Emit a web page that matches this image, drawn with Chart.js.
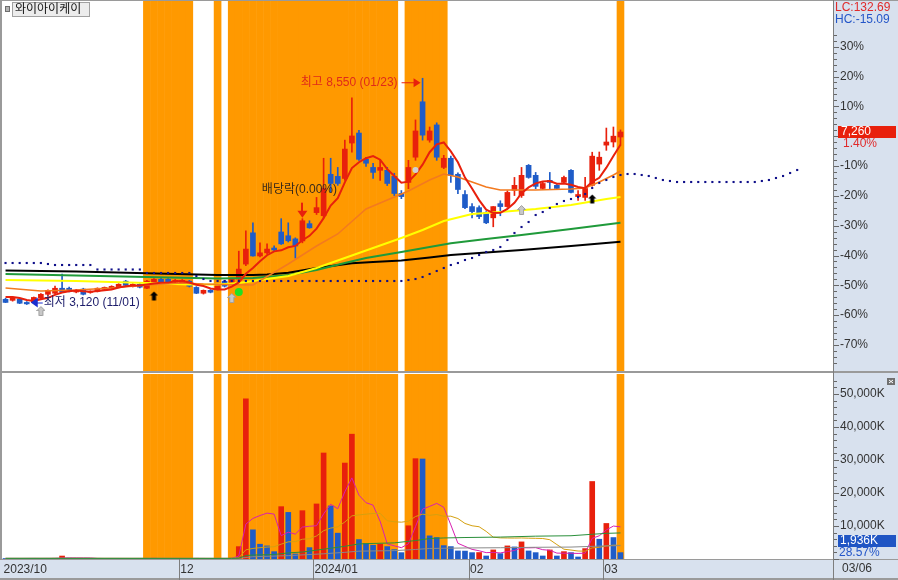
<!DOCTYPE html>
<html lang="ko">
<head>
<meta charset="utf-8">
<title>와이아이케이</title>
<script src="https://cdn.jsdelivr.net/npm/chart.js@4.4.1/dist/chart.umd.min.js"></script>
<style>
  html, body { margin: 0; padding: 0; background: #fff; }
  #wrap { position: relative; width: 898px; height: 580px; overflow: hidden; }
  canvas { position: absolute; left: 0; }
  #price { top: 0; }
  #volume { top: 373px; }
</style>
</head>
<body>
<div id="wrap">
  <canvas id="price" width="898" height="373"></canvas>
  <canvas id="volume" width="898" height="207"></canvas>
</div>
<script>
// one slot per trading day, slot 0 = 2023/10/27, last candle = 2024/03/06 (slot 87)
const N_SLOTS = 117;
const monthTicks = { 0: '2023/10', 25: '12', 44: '2024/01', 66: '02', 85: '03' };

const open = [3245,3220,3250,3170,3170,3270,3365,3390,3510,3510, 3420,3490,3410,3435,3485,3510,3535,3680,3555,3605,
  3510,3630,3725,3725,3655,3630,3680,3530,3390,3460, 3485,3680,3630,3730,4090,4840,4285,4360,4475,4860,
  4770,4695,4645,5060,5325,5250,6245,6195,6145,6995, 7235,6605,6410,6340,6340,6195,5785,6050,6655,7985,
  7065,7430,6410,6630,6245,5760,5470,5445,5325,5200, 5540,5470,5860,5735,6460,6220,5905,6100,5980,6050,
  6340,5710,5690,5980,6490,6945,7020,7140];
const high = [3270,3300,3270,3190,3300,3380,3470,3560,3850,3540, 3480,3510,3450,3520,3540,3570,3620,3700,3620,3620,
  3700,3740,3750,3740,3720,3720,3700,3550,3470,3480, 3600,3700,3740,4400,4890,5080,4600,4575,4530,5180,
  5080,4720,5180,5130,5690,6630,6630,6410,7065,8080, 7300,6655,6510,6580,6410,6270,5855,6580,7550,8550,
  7380,7480,6700,6680,6280,5855,5540,5490,5350,5470, 5610,5850,6170,6410,6480,6290,6060,6290,6000,6200,
  6360,5855,6170,6775,6780,7355,7380,7310];
const low = [3165,3200,3140,3120,3150,3250,3340,3380,3410,3420, 3400,3350,3390,3420,3470,3490,3520,3570,3540,3520,
  3500,3620,3640,3620,3640,3610,3540,3380,3370,3400, 3470,3540,3600,3700,4050,4280,4260,4330,4400,4560,
  4620,4235,4600,4950,5280,5200,5810,5980,6100,6775, 6580,6435,6145,6100,5975,5735,5660,5900,6580,7065,
  7015,6580,6380,6050,5780,5420,5200,5180,5060,4985, 5250,5450,5735,5690,6150,5900,5880,5900,5880,6030,
  5800,5620,5620,5960,6340,6820,6900,6945];
const close = [3170,3290,3150,3135,3290,3365,3460,3510,3420,3440, 3460,3365,3435,3510,3530,3555,3605,3580,3605,3535,
  3680,3725,3655,3630,3700,3700,3560,3390,3460,3415, 3580,3560,3725,3970,4450,4285,4360,4450,4430,4575,
  4650,4525,5130,4960,5445,5905,6025,6025,6850,7165, 6605,6510,6290,6410,6025,5785,5710,6410,7285,7185,
  7285,6655,6630,6220,5880,5445,5350,5230,5080,5470, 5470,5810,5980,6220,6170,5955,6025,6050,5905,6170,
  5810,5760,5905,6680,6655,7020,7160,7260];

// volume in thousands of shares
const volume = [150,180,160,200,170,150,190,220,900,240, 180,160,150,170,140,160,190,150,140,160,
  200,230,170,150,140,160,180,220,170,140, 190,160,260,3750,48500,8845,4480,3965,2225,15860,
  14120,1525,14640,3450,16680,32120,16070,7830,29070,37820, 5890,4670,4170,4470,3760,2850,1930,10070,30400,30300,
  7015,6500,4060,3760,2440,2400,1930,1960,915,2745, 1630,3965,3660,5185,2440,1930,915,2745,915,2235,
  1930,610,3150,23485,6000,10770,6500,1936];

// moving averages of price (red line every day, slower lines as [slot, price])
const ma5 = [3300,3300,3276,3228,3207,3246,3280,3352,3409,3439, 3458,3439,3424,3442,3460,3479,3527,3556,3575,3576,
  3601,3625,3640,3645,3678,3682,3649,3596,3562,3505, 3481,3481,3548,3650,3857,3998,4158,4303,4395,4420,
  4493,4526,4662,4768,4942,5193,5493,5672,6050,6394, 6534,6631,6684,6596,6368,6204,6044,6068,6243,6475,
  6775,6964,7008,6795,6534,6166,5905,5625,5397,5315, 5320,5412,5562,5790,5930,6027,6070,6084,6021,6021,
  5992,5939,5910,6065,6162,6404,6684,6955];
const ma20 = [[0,3516],[5,3444],[10,3468],[15,3516],[20,3588],[25,3636],[28,3612],[31,3600],[35,3588],[40,4092],
  [44,4524],[47,4812],[51,5412],[54,5628],[57,5844],[60,6108],[62,6252],[64,6180],
  [66,6060],[68,5940],[70,5868],[75,5868],[80,5892],[82,5916],[84,6060],[86,6228],[87,6324]];
const ma60 = [[0,3708],[10,3684],[20,3636],[26,3600],[30,3600],[33,3636],[36,3708],[40,3804],[44,3996],[48,4236],
  [52,4476],[56,4716],[59,4908],[62,5124],[66,5292],[70,5340],[75,5412],[80,5508],[85,5652],[87,5700]];
const ma120 = [[0,3852],[10,3816],[20,3780],[30,3744],[35,3756],[40,3828],[44,3948],[48,4116],[51,4236],[56,4380],
  [60,4500],[63,4589],[68,4692],[73,4788],[80,4932],[87,5083]];
const ma240 = [[0,3936],[10,3910],[20,3870],[30,3830],[35,3830],[37,3840],[40,3883],[44,3996],[49,4109],[52,4140],
  [56,4176],[60,4248],[63,4308],[68,4368],[73,4428],[80,4524],[87,4627]];

// dotted leading line, runs 25 slots past the last candle
const leadLine = [4116,4116,4116,4116,4116,4116,4092,4068,4068,4068, 4068,4068,4068,3960,3960,3960,3960,3960,3960,3960,
  3876,3876,3876,3876,3876,3876,3876,3804,3732,3684, 3684,3684,3684,3684,3684,3684,3684,3684,3684,3684,
  3684,3684,3684,3684,3684,3684,3684,3684,3684,3684, 3684,3684,3684,3684,3684,3684,3684,3708,3732,3780,
  3852,3924,3996,4068,4116,4188,4236,4308,4380,4428, 4500,4668,4836,4980,5100,5268,5340,5436,5532,5604,
  5652,5700,5772,5916,6036,6108,6180,6228,6252,6252, 6228,6204,6156,6108,6084,6060,6060,6060,6060,6060,
  6060,6060,6060,6060,6060,6060,6060,6084,6108,6156, 6204,6276,6348];

// volume averages
const volMa5 = [170,170,165,172,180,174,176,186,326,340, 346,340,326,180,160,164,164,158,156,160,
  168,176,172,170,178,170,160,174,174,162, 172,176,184,900,10572,12303,13167,13908,13603,7075,
  8130,7539,9674,9919,10083,13683,16592,15230,20354,24582, 19336,17056,16324,11404,4592,3984,3436,4616,9802,15110,
  15943,16857,15655,10327,4755,3832,2918,2498,1929,1990, 1836,2243,2583,3437,3376,3436,2826,2643,1789,1748,
  1748,1687,1768,6282,7035,8803,9981,9738];
const volMa20 = [[0,190],[10,210],[20,200],[32,190],[33,358],[34,2775],[35,3208],[36,3423],[37,3612],[38,3714],
  [39,4498],[40,5195],[41,5262],[42,5986],[43,6149],[44,6974],[45,8571],[46,9366],[47,9748],[48,11193],
  [49,13075],[50,13360],[51,13585],[52,13784],[53,13820],[54,11583],[55,11283],[56,11156],[57,11461],[58,12870],
  [59,13592],[60,13237],[61,13485],[62,12956],[63,12972],[64,12260],[65,10774],[66,10067],[67,9774],[68,8366],
  [69,6612],[70,6399],[71,6364],[72,6339],[73,6374],[74,6308],[75,6262],[76,6212],[77,5845],[78,4371],
  [79,2968],[80,2714],[81,2419],[82,2374],[83,3360],[84,3538],[85,3954],[86,4183],[87,4183]];
const volMa60 = [[0,190],[32,180],[33,240],[34,1045],[35,1189],[38,1358],[40,1852],[42,2115],[45,2977],[48,3851],
  [50,4573],[52,4715],[55,4890],[58,5588],[60,6204],[62,6374],[65,6508],[70,6646],[75,6918],[80,7048],
  [83,7493],[85,7767],[87,7901]];
const volMa120 = [[0,200],[32,180],[33,210],[35,686],[40,1017],[45,1580],[48,2017],[50,2378],[55,2537],[58,2886],
  [60,3194],[65,3346],[70,3415],[75,3550],[80,3616],[85,3975],[87,4042]];

// highlighted trading days (orange columns)
const highlight = [0,0,0,0,0,0,0,0,0,0, 0,0,0,0,0,0,0,0,0,0,
  1,1,1,1,1,1,1,0,0,0, 1,0,1,1,1,1,1,1,1,1,
  1,1,1,1,1,1,1,1,1,1, 1,1,1,1,1,1,0,1,1,1,
  1,1,1,0,0,0,0,0,0,0, 0,0,0,0,0,0,0,0,0,0,
  0,0,0,0,0,0,0,1];

// signal markers [slot, price]
const buyArrows = [[21, 3324], [83, 5652]];
const watchArrows = [[5, 2964], [32, 3276], [73, 5388]];
const greenDots = [[33, 3420]];
const grayDots = [[58, 6348]];

const pctSteps = [30, 20, 10, -10, -20, -30, -40, -50, -60, -70];
const volSteps = [10000, 20000, 30000, 40000, 50000];
const BASE_CLOSE = 7160, LAST_CLOSE = 7260, LAST_VOL = 1936;
const PRICE_MIN = 1500, PRICE_MAX = 10404, VOL_MAX = 56055;

const UP = '#e8200c', DOWN = '#1f5cc8', BAND = '#ff9900', AXIS_BG = '#d8e1ee', AXIS_W = 69;
const FONT = '"Liberation Sans", "Noto Sans CJK KR", sans-serif';
Chart.defaults.font.family = FONT;
Chart.defaults.font.size = 12;
Chart.defaults.color = '#333';

const labels = Array.from({ length: N_SLOTS }, (_, i) => String(i));
const sparse = pairs => {
  const a = new Array(N_SLOTS).fill(null);
  pairs.forEach(([i, v]) => { a[i] = v; });
  return a;
};
const candleColor = ctx => close[ctx.dataIndex] >= open[ctx.dataIndex] ? UP : DOWN;
const volColor = ctx => {
  const i = ctx.dataIndex;
  return i > 0 && volume[i] > volume[i - 1] ? UP : DOWN;
};

function arrowIcon(fill, stroke) {
  const c = document.createElement('canvas');
  c.width = 9; c.height = 10;
  const g = c.getContext('2d');
  g.beginPath();
  g.moveTo(4.5, 0.5); g.lineTo(8.5, 4.5); g.lineTo(6.5, 4.5); g.lineTo(6.5, 9.5);
  g.lineTo(2.5, 9.5); g.lineTo(2.5, 4.5); g.lineTo(0.5, 4.5); g.closePath();
  g.fillStyle = fill; g.fill();
  if (stroke) { g.strokeStyle = stroke; g.lineWidth = 1; g.stroke(); }
  return c;
}

const maLine = (label, data, color, width, order) => ({
  type: 'line', label, data, borderColor: color, borderWidth: width,
  pointRadius: 0, spanGaps: true, tension: 0, order
});
const marker = (label, pairs, style, radius, color, order) => ({
  type: 'line', label, data: sparse(pairs), showLine: false, pointStyle: style,
  pointRadius: radius, backgroundColor: color, borderColor: color, borderWidth: 0, order
});
const rightAxis = (min, max, values, fmt) => ({
  position: 'right', min, max, beginAtZero: false,
  grid: { display: false, drawTicks: false, tickLength: 0 },
  border: { display: false },
  afterFit(s) { s.width = AXIS_W; s.paddingTop = 0; s.paddingBottom = 0; },
  afterBuildTicks(s) { s.ticks = values.map(value => ({ value })); },
  ticks: { autoSkip: false, padding: 11, color: '#333', callback: fmt }
});

function text(ctx, str, x, y, color, align) {
  ctx.fillStyle = color;
  ctx.textAlign = align || 'left';
  ctx.fillText(str, x, y);
}

const priceDecor = {
  id: 'priceDecor',
  beforeDraw(chart) {
    const { ctx, width, height } = chart;
    ctx.save();
    ctx.fillStyle = '#fff'; ctx.fillRect(0, 0, width, height);
    ctx.fillStyle = AXIS_BG; ctx.fillRect(833, 0, width - 833, height);
    ctx.restore();
  },
  afterDraw(chart) {
    const { ctx, width, height } = chart;
    const px = i => chart.scales.x.getPixelForValue(i);
    const py = v => chart.scales.y.getPixelForValue(v);
    ctx.save();
    ctx.fillStyle = '#9a9a9a';
    ctx.fillRect(0, 0, 2, height);
    ctx.fillRect(0, 0, width, 1);
    ctx.fillRect(0, height - 2, width, 2);
    ctx.fillStyle = '#7d7d7d';
    ctx.fillRect(833, 0, 1, height);
    ctx.fillStyle = '#666';
    for (let k = -76; k <= 34; k += 2) {
      ctx.fillRect(834, Math.round(py(BASE_CLOSE * (1 + k / 100))), k % 10 === 0 ? 5 : 3, 1);
    }

    ctx.font = '12px ' + FONT;
    ctx.textBaseline = 'middle';

    // stock name
    ctx.fillStyle = '#b4b4b4'; ctx.fillRect(5, 6, 5, 6);
    ctx.strokeStyle = '#6e6e6e'; ctx.lineWidth = 1; ctx.strokeRect(5.5, 6.5, 4, 5);
    ctx.fillStyle = '#ececec'; ctx.fillRect(12, 2, 78, 15);
    ctx.strokeStyle = '#a0a0a0'; ctx.strokeRect(12.5, 2.5, 77, 14);
    text(ctx, '와이아이케이', 15, 10, '#111');

    // right axis header
    text(ctx, 'LC:132.69', 835, 8, '#e02a2a');
    text(ctx, 'HC:-15.09', 835, 20, '#2456c8');

    // last price box
    const ly = Math.round(py(LAST_CLOSE));
    ctx.fillStyle = '#e8200c'; ctx.fillRect(838, ly - 6, 58, 12);
    text(ctx, '7,260', 841, ly, '#fff');
    text(ctx, '1.40%', 843, ly + 12, '#e02a2a');

    // highest price note
    const hx = px(59) - 2, hy = py(8550) + 4;
    ctx.strokeStyle = '#e8200c'; ctx.lineWidth = 1;
    ctx.beginPath(); ctx.moveTo(hx - 19, hy + 0.5); ctx.lineTo(hx - 5, hy + 0.5); ctx.stroke();
    ctx.fillStyle = '#e8200c';
    ctx.beginPath(); ctx.moveTo(hx, hy + 0.5); ctx.lineTo(hx - 7, hy - 4); ctx.lineTo(hx - 7, hy + 5); ctx.closePath(); ctx.fill();
    text(ctx, '최고 8,550 (01/23)', hx - 23, hy, '#e02a1a', 'right');

    // lowest price note
    const lx = px(3) + 4, lowY = py(3120) - 2;
    ctx.fillStyle = '#1a2fd0';
    ctx.beginPath(); ctx.moveTo(lx, lowY); ctx.lineTo(lx + 7, lowY - 5); ctx.lineTo(lx + 7, lowY + 5); ctx.closePath(); ctx.fill();
    ctx.strokeStyle = '#1a2fd0';
    ctx.beginPath(); ctx.moveTo(lx + 6, lowY + 0.5); ctx.lineTo(lx + 12, lowY + 0.5); ctx.stroke();
    text(ctx, '최저 3,120 (11/01)', lx + 13, lowY, '#1c1c6a');

    // ex-dividend note
    const dx = px(42), dy = py(high[42]) - 1;
    ctx.fillStyle = '#e8200c';
    ctx.fillRect(Math.round(dx) - 1, dy - 15, 2, 9);
    ctx.beginPath(); ctx.moveTo(dx, dy); ctx.lineTo(dx - 5, dy - 7); ctx.lineTo(dx + 5, dy - 7); ctx.closePath(); ctx.fill();
    text(ctx, '배당락(0.00%)', dx - 3, dy - 28, '#3a2a1a', 'center');
    ctx.restore();
  }
};

const volumeDecor = {
  id: 'volumeDecor',
  beforeDraw(chart) {
    const { ctx, width, height } = chart;
    const bottom = chart.chartArea.bottom;
    ctx.save();
    ctx.fillStyle = '#fff'; ctx.fillRect(0, 0, width, height);
    ctx.fillStyle = AXIS_BG;
    ctx.fillRect(833, 0, width - 833, height);
    ctx.fillRect(0, bottom, width, height - bottom);
    ctx.restore();
  },
  afterDraw(chart) {
    const { ctx, width, height } = chart;
    const xs = chart.scales.x;
    const vy = v => chart.scales.y.getPixelForValue(v);
    const bottom = chart.chartArea.bottom;
    const slotW = xs.getPixelForValue(1) - xs.getPixelForValue(0);
    ctx.save();
    ctx.fillStyle = '#9a9a9a';
    ctx.fillRect(0, 0, 2, bottom);
    ctx.fillRect(0, bottom, width, 1);
    ctx.fillRect(0, height - 2, width, 2);
    ctx.fillStyle = '#7d7d7d';
    ctx.fillRect(833, 0, 1, height);
    Object.keys(monthTicks).map(Number).filter(i => i > 0).forEach(i => {
      ctx.fillRect(Math.round(xs.getPixelForValue(i) - slotW / 2), bottom, 1, height - bottom);
    });
    ctx.fillStyle = '#666';
    for (let v = 0; v <= 54000; v += 2000) {
      ctx.fillRect(834, Math.round(vy(v)), v % 10000 === 0 ? 5 : 3, 1);
    }

    ctx.font = '12px ' + FONT;
    ctx.textBaseline = 'middle';
    text(ctx, '03/06', 842, bottom + 10, '#333');

    // close icon
    ctx.fillStyle = '#707070'; ctx.fillRect(887, 5, 8, 7);
    ctx.strokeStyle = '#fff'; ctx.lineWidth = 1;
    ctx.beginPath(); ctx.moveTo(889, 7); ctx.lineTo(893, 10); ctx.moveTo(893, 7); ctx.lineTo(889, 10); ctx.stroke();

    // last volume box
    const by = Math.round(vy(LAST_VOL)) - 12;
    ctx.fillStyle = '#1f55c4'; ctx.fillRect(838, by - 6, 58, 12);
    text(ctx, '1,936K', 840, by, '#fff');
    text(ctx, '28.57%', 839, by + 12, '#2456c8');
    ctx.restore();
  }
};

new Chart(document.getElementById('price'), {
  type: 'bar',
  data: {
    labels,
    datasets: [
      { label: 'band', data: highlight.map(f => f ? [PRICE_MIN, PRICE_MAX] : null), backgroundColor: BAND,
        barPercentage: 1.08, categoryPercentage: 1, grouped: false, order: 100 },
      { label: 'wick', data: low.map((v, i) => [v, high[i]]), backgroundColor: candleColor,
        barThickness: 1, grouped: false, order: 45 },
      { label: 'body', data: open.map((v, i) => [v, close[i]]), backgroundColor: candleColor,
        barThickness: 5, minBarLength: 1, grouped: false, order: 44 },
      maLine('MA240', sparse(ma240), '#000000', 2, 24),
      maLine('MA120', sparse(ma120), '#1f9a3a', 2, 23),
      maLine('MA60', sparse(ma60), '#ffff00', 2, 22),
      maLine('MA20', sparse(ma20), '#f37a1f', 1.5, 21),
      maLine('MA5', ma5, '#e8200c', 2, 20),
      { type: 'line', label: 'lead', data: leadLine, showLine: false, pointStyle: 'rect', pointRadius: 1.5,
        backgroundColor: '#10108a', borderWidth: 0, order: 15 },
      marker('buy', buyArrows, arrowIcon('#000'), 5, '#000', 5),
      marker('watch', watchArrows, arrowIcon('#c8c8c8', '#a0a0a0'), 5, '#bbb', 5),
      marker('green', greenDots, 'circle', 4, '#22e022', 5),
      marker('gray', grayDots, 'circle', 3, '#d0d0d0', 5)
    ]
  },
  options: {
    responsive: false, animation: false, events: [],
    layout: { autoPadding: false, padding: { left: 2, top: 1, right: 0, bottom: 1 } },
    plugins: { legend: { display: false }, tooltip: { enabled: false } },
    scales: {
      x: { type: 'category', display: false, offset: true },
      y: rightAxis(PRICE_MIN, PRICE_MAX, pctSteps.map(k => BASE_CLOSE * (1 + k / 100)),
        v => Math.round((v / BASE_CLOSE - 1) * 100) + '%')
    }
  },
  plugins: [priceDecor]
});

new Chart(document.getElementById('volume'), {
  type: 'bar',
  data: {
    labels,
    datasets: [
      { label: 'band', data: highlight.map(f => f ? [0, VOL_MAX] : null), backgroundColor: BAND,
        barPercentage: 1.08, categoryPercentage: 1, grouped: false, order: 100 },
      { label: 'volume', data: volume, backgroundColor: volColor, barThickness: 5, grouped: false, order: 40 },
      maLine('V5', volMa5, '#d81fb0', 1, 24),
      maLine('V20', sparse(volMa20), '#d4a010', 1, 23),
      maLine('V120', sparse(volMa120), '#8a8a8a', 1, 22),
      maLine('V60', sparse(volMa60), '#2a8f3a', 1, 21)
    ]
  },
  options: {
    responsive: false, animation: false, events: [],
    layout: { autoPadding: false, padding: { left: 2, top: 1, right: 0, bottom: 0 } },
    plugins: { legend: { display: false }, tooltip: { enabled: false } },
    scales: {
      x: {
        type: 'category', offset: true,
        grid: { display: false, drawTicks: false, tickLength: 0 }, border: { display: false },
        afterFit(s) { s.height = 21; s.paddingLeft = 0; s.paddingRight = 0; },
        ticks: { autoSkip: false, maxRotation: 0, minRotation: 0, align: 'start', labelOffset: -2, padding: 3,
          color: '#333', callback: (v, i) => monthTicks[i] || '' }
      },
      y: rightAxis(0, VOL_MAX, volSteps, v => v.toLocaleString('en-US') + 'K')
    }
  },
  plugins: [volumeDecor]
});
</script>
</body>
</html>
